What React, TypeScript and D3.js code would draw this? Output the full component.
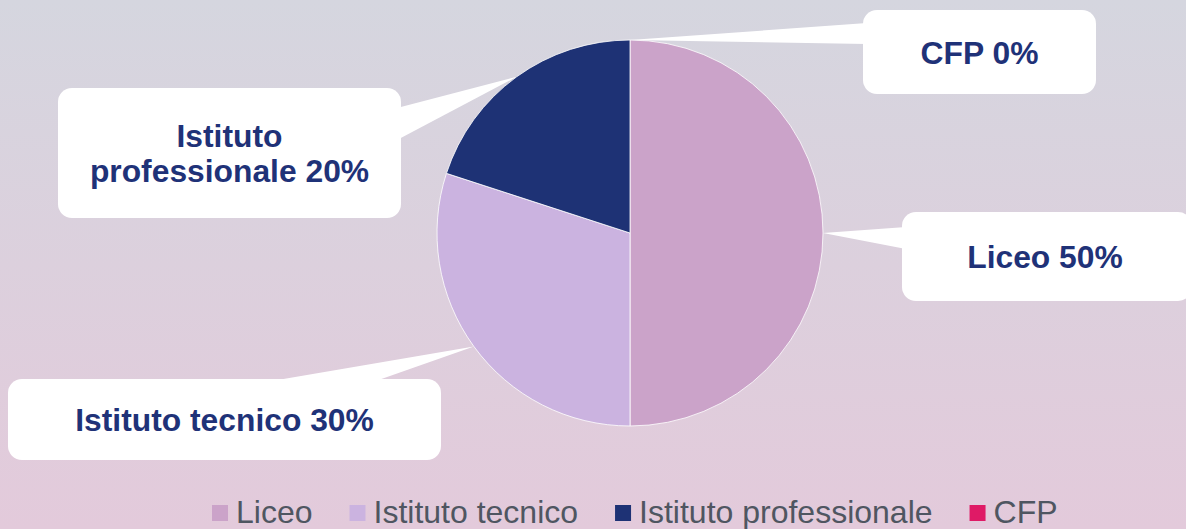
import React, { useEffect, useRef } from "react";
import * as d3 from "d3";

const categories = ["Liceo", "Istituto tecnico", "Istituto professionale", "CFP"];
const values = [50, 30, 20, 0];
const colors = ["#cba3c9", "#cbb3e0", "#1e3275", "#df1a66"];
const labelLines = [["Liceo 50%"], ["Istituto tecnico 30%"], ["Istituto", "professionale 20%"], ["CFP 0%"]];

const W = 1186;
const H = 529;

// callout boxes: [x0, y0, x1, y1], wedge base points
const boxes = [
  { x0: 902, y0: 212, x1: 1192, y1: 301, b1: [906, 227], b2: [906, 249] },
  { x0: 8, y0: 379, x1: 441, y1: 460, b1: [260, 383], b2: [370, 383] },
  { x0: 58, y0: 88, x1: 401, y1: 218, b1: [397, 108], b2: [397, 140] },
  { x0: 863, y0: 10, x1: 1096, y1: 94, b1: [867, 23], b2: [867, 44] },
];

export default function App() {
  const ref = useRef<SVGSVGElement | null>(null);
  useEffect(() => {
    document.body.style.margin = "0";
    const svg = d3.select(ref.current);
    svg.selectAll("*").remove();

    const defs = svg.append("defs");
    const grad = defs.append("linearGradient").attr("id", "bg").attr("x1", 0).attr("y1", 0).attr("x2", 0).attr("y2", 1);
    grad.append("stop").attr("offset", "0%").attr("stop-color", "#d5d6df");
    grad.append("stop").attr("offset", "100%").attr("stop-color", "#e3cadb");
    svg.append("rect").attr("width", W).attr("height", H).attr("fill", "url(#bg)");

    const cx = 630, cy = 233, r = 193;
    const pie = d3.pie<number>().sort(null).value((d) => d).startAngle(0).endAngle(2 * Math.PI);
    const arcs = pie(values);
    const arc = d3.arc<d3.PieArcDatum<number>>().innerRadius(0).outerRadius(r);
    const g = svg.append("g").attr("transform", `translate(${cx},${cy})`);
    g.selectAll("path.slice")
      .data(arcs)
      .enter()
      .append("path")
      .attr("class", "slice")
      .attr("d", (d) => arc(d) || "")
      .attr("fill", (_, i) => colors[i])
      .attr("stroke", "#ffffff")
      .attr("stroke-width", (d) => (d.value > 0 ? 0.8 : 0));

    // callouts
    const font = "'Liberation Sans', Arial, sans-serif";
    arcs.forEach((a, i) => {
      const mid = (a.startAngle + a.endAngle) / 2;
      const tx = cx + r * Math.sin(mid);
      const ty = cy - r * Math.cos(mid);
      const b = boxes[i];
      svg.append("path")
        .attr("d", `M${tx},${ty}L${b.b1[0]},${b.b1[1]}L${b.b2[0]},${b.b2[1]}Z`)
        .attr("fill", "#ffffff");
      svg.append("rect")
        .attr("x", b.x0).attr("y", b.y0)
        .attr("width", b.x1 - b.x0).attr("height", b.y1 - b.y0)
        .attr("rx", 14).attr("fill", "#ffffff");
      const lines = labelLines[i];
      const lh = 35;
      const centerX = i === 0 ? 1045 : (b.x0 + b.x1) / 2;
      const centerY = (b.y0 + b.y1) / 2;
      const firstBase = centerY + 11.5 - ((lines.length - 1) * lh) / 2;
      lines.forEach((ln, j) => {
        svg.append("text")
          .attr("x", centerX)
          .attr("y", firstBase + j * lh)
          .attr("text-anchor", "middle")
          .attr("font-family", font)
          .attr("font-weight", "bold")
          .attr("font-size", 31.8)
          .attr("fill", "#1f3278")
          .text(ln);
      });
    });

    // legend
    const lg = svg.append("g");
    let x = 212;
    const sq = 16;
    categories.forEach((c, i) => {
      lg.append("rect").attr("x", x).attr("y", 505).attr("width", sq).attr("height", sq).attr("fill", colors[i]);
      const t = lg.append("text")
        .attr("x", x + sq + 8)
        .attr("y", 523)
        .attr("font-family", font)
        .attr("font-size", 32)
        .attr("fill", "#4f5661")
        .text(c);
      const w = (t.node() as SVGTextElement).getComputedTextLength();
      x = x + sq + 8 + w + 37;
    });
  }, []);
  return <svg ref={ref} width={W} height={H} style={{ display: "block" }} />;
}
